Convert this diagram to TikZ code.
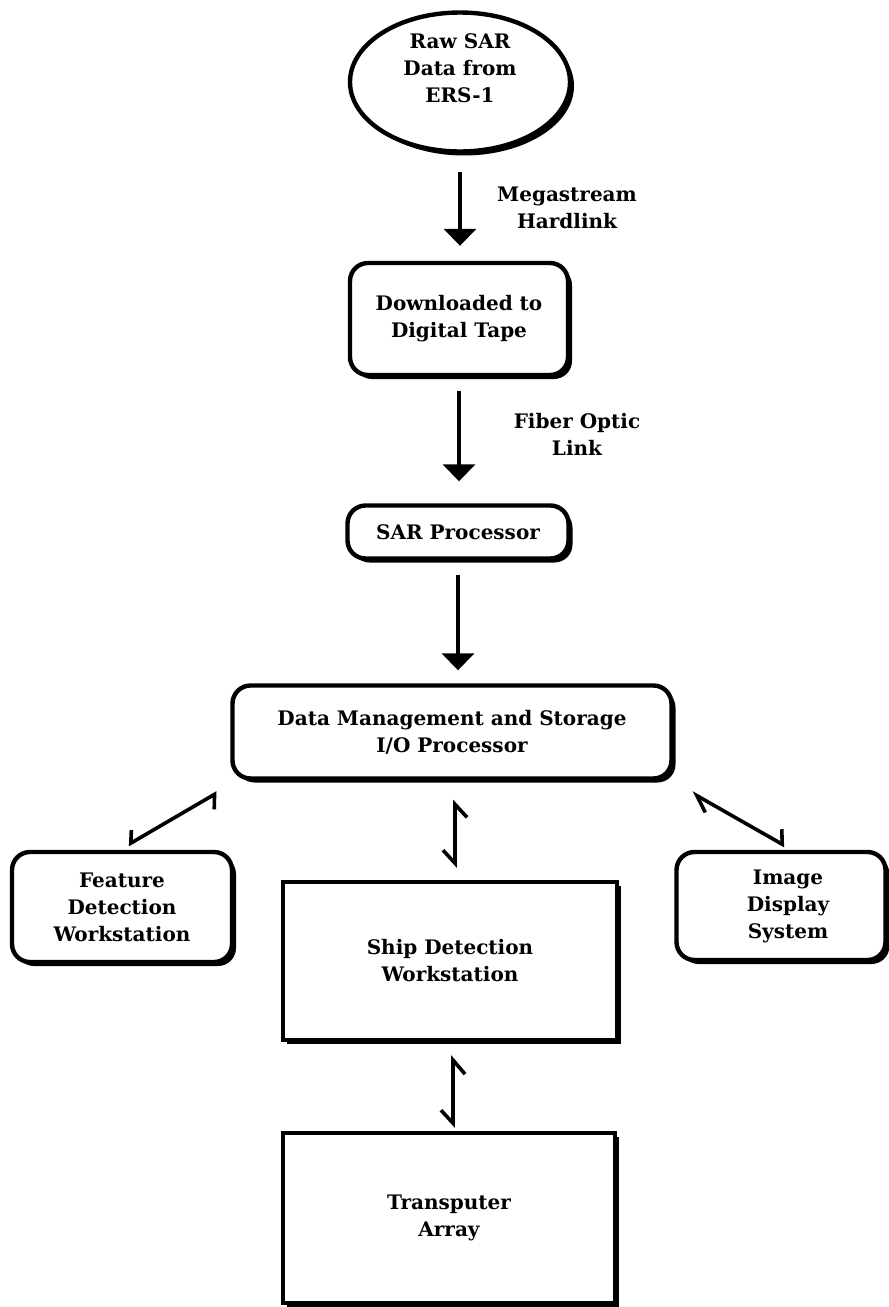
\documentclass[tikz,border=0pt]{standalone}
\usepackage{fontspec}
\setmainfont{DejaVu Serif}
\usetikzlibrary{shapes.geometric,arrows.meta,calc,shadows}
\begin{document}
\begin{tikzpicture}[x=0.5pt,y=-0.5pt,
  every node/.style={font=\bfseries\fontsize{10}{13.5}\selectfont, align=center},
  sh/.style={drop shadow={shadow xshift=2pt,shadow yshift=-2pt,fill=black,opacity=1}},
  rbox/.style={draw, line width=2.2pt, rounded corners=9pt, fill=white, sh, inner sep=0pt},
  sbox/.style={draw, line width=2.2pt, fill=white, sh, inner sep=0pt},
  flow/.style={line width=1.8pt, -{Triangle[width=16pt,length=8.5pt]}},
  link/.style={line width=1.8pt, line cap=round, line join=round}
]
\useasboundingbox (0,0) rectangle (889,1307);

% nodes
\node[ellipse, draw, line width=2.2pt, fill=white, sh, minimum width=110pt, minimum height=69.5pt, inner sep=0pt,
      label={[align=center, yshift=7pt]center:Raw SAR\\Data from\\ERS-1}] (ell) at (460,82) {};
\node (lab1) at (567,208) {Megastream\\Hardlink};
\node[rbox, minimum width=109pt, minimum height=56pt] (dl) at (459,319) {Downloaded to\\Digital Tape};
\node (lab2) at (577,434) {Fiber Optic\\Link};
\node[rbox, minimum width=110.5pt, minimum height=26.5pt] (sar) at (458,532) {SAR Processor};
\node[rbox, minimum width=219.5pt, minimum height=46.5pt] (dm) at (452,732) {Data Management and Storage\\I/O Processor};
\node[rbox, minimum width=110pt, minimum height=55pt] (fd) at (122,907) {Feature\\Detection\\Workstation};
\node[rbox, minimum width=104.5pt, minimum height=54pt, text width=104.5pt] (ids) at (781,906) {\hspace*{7pt}Image\\\hspace*{7pt}Display\\\hspace*{7pt}System};
\node[sbox, minimum width=167pt, minimum height=79pt] (ship) at (450,961) {Ship Detection\\Workstation};
\node[sbox, minimum width=166pt, minimum height=85pt] (tr) at (449,1218) {Transputer\\Array};

% straight flow arrows (vertical)
\draw[flow, shorten <=9pt, shorten >=7.5pt] (ell.south) -- (ell.south |- dl.north);
\draw[flow, shorten <=7pt, shorten >=11pt] (dl.south) -- (dl.south |- sar.north);
\draw[flow, shorten <=7pt, shorten >=6.5pt] (sar.south) -- (sar.south |- dm.north);

% two-way harpoon links
\coordinate (l1) at ($(dm.south west)+(-13,12)$);
\coordinate (l2) at ($(fd.north)+(6,-5)$);
\coordinate (c1) at ($(dm.south)+(3,19)$);
\coordinate (c2) at ($(ship.north)+(5,-12)$);
\coordinate (s1) at ($(ship.south)+(3,13)$);
\coordinate (s2) at ($(tr.north)+(4,-3)$);
\coordinate (r1) at ($(dm.south east)+(18,12)$);
\coordinate (r2) at ($(ids.north)+(4,-4)$);

\draw[link, {Straight Barb[harpoon,swap,length=3.9pt,width=12.8pt]}-{Straight Barb[harpoon,swap,length=3.5pt,width=11pt]}] (l1) -- (l2);
\draw[link, {Straight Barb[harpoon,swap,length=6.5pt,width=12pt]}-{Straight Barb[harpoon,swap,length=6.5pt,width=12pt]}] (c1) -- (c2);
\draw[link, {Straight Barb[harpoon,swap,length=7pt,width=12pt]}-{Straight Barb[harpoon,swap,length=6.5pt,width=12pt]}] (s1) -- (s2);
\draw[link, {Straight Barb[harpoon,length=7.8pt,width=10.4pt]}-{Straight Barb[harpoon,length=3.9pt,width=12.8pt]}] (r1) -- (r2);
\end{tikzpicture}
\end{document}
